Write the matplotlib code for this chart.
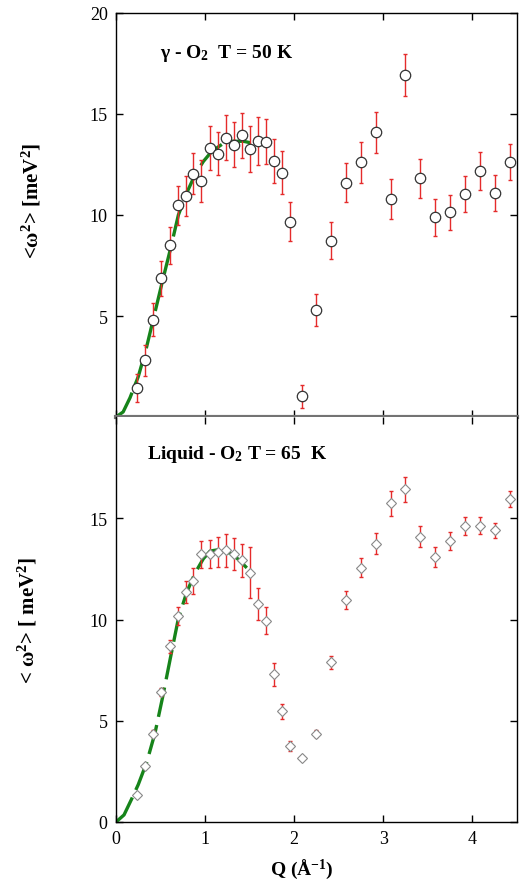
import matplotlib
matplotlib.use("Agg")
import matplotlib.pyplot as plt

plt.rcParams['font.family'] = 'Liberation Serif'
plt.rcParams['mathtext.fontset'] = 'custom'
plt.rcParams['mathtext.rm'] = 'Liberation Serif:bold'
plt.rcParams['mathtext.it'] = 'Liberation Serif:bold'
plt.rcParams['mathtext.bf'] = 'Liberation Serif:bold'

# Q grid, same for both panels (1/Angstrom)
q = [0.232, 0.322, 0.42, 0.51, 0.603, 0.697, 0.783, 0.869, 0.959, 1.052,
     1.142, 1.236, 1.326, 1.416, 1.506, 1.588, 1.682, 1.775, 1.865, 1.955,
     2.082, 2.247, 2.416, 2.584, 2.745, 2.914, 3.086, 3.247, 3.416, 3.584,
     3.753, 3.921, 4.09, 4.25, 4.42]

# gamma-O2, T = 50 K
w2_sol = [1.44, 2.81, 4.82, 6.86, 8.51, 10.48, 10.93, 12.05, 11.68, 13.32,
          13.03, 13.83, 13.48, 13.94, 13.27, 13.66, 13.63, 12.67, 12.10, 9.67,
          1.02, 5.30, 8.73, 11.60, 12.60, 14.09, 10.79, 16.91, 11.81, 9.88,
          10.13, 11.04, 12.18, 11.09, 12.61]
err_sol = [0.68, 0.77, 0.80, 0.88, 0.92, 0.97, 1.0, 1.03, 1.02, 1.09,
           1.07, 1.1, 1.1, 1.1, 1.15, 1.17, 1.1, 1.1, 1.05, 0.97,
           0.55, 0.78, 0.9, 0.97, 1.0, 1.0, 0.98, 1.04, 0.97, 0.93,
           0.88, 0.9, 0.95, 0.87, 0.9]

# liquid O2, T = 65 K
w2_liq = [1.31, 2.76, 4.37, 6.40, 8.67, 10.19, 11.36, 11.90, 13.22, 13.22,
          13.33, 13.41, 13.22, 12.92, 12.31, 10.78, 9.94, 7.30, 5.47, 3.74,
          3.18, 4.37, 7.88, 10.97, 12.56, 13.75, 15.73, 16.44, 14.09, 13.09,
          13.88, 14.63, 14.63, 14.41, 15.95]
err_liq = [0.08, 0.1, 0.15, 0.2, 0.33, 0.44, 0.55, 0.62, 0.68, 0.7,
           0.75, 0.8, 0.8, 0.81, 1.27, 0.78, 0.67, 0.57, 0.38, 0.25,
           0.1, 0.15, 0.34, 0.46, 0.48, 0.5, 0.6, 0.62, 0.52, 0.48,
           0.46, 0.45, 0.43, 0.37, 0.38]

# dashed model curves
fit_q_sol = [0, 0.08, 0.157, 0.25, 0.337, 0.43, 0.52, 0.61, 0.70, 0.794,
             0.888, 0.98, 1.075, 1.19, 1.31, 1.43, 1.506]
fit_sol = [0, 0.25, 0.95, 2.0, 3.35, 5.05, 6.7, 8.3, 10.0, 11.1,
           12.0, 12.65, 13.15, 13.5, 13.65, 13.65, 13.58]
fit_q_liq = [0, 0.09, 0.176, 0.25, 0.345, 0.438, 0.52, 0.615, 0.70, 0.794,
             0.888, 0.98, 1.056, 1.17, 1.318, 1.468]
fit_liq = [0, 0.35, 1.14, 1.85, 2.95, 4.4, 6.1, 8.2, 10.05, 11.35,
           12.3, 13.0, 13.38, 13.46, 13.2, 12.55]

red = '#e52b2b'
green = '#16841a'

fig = plt.figure(figsize=(5.26, 8.87), dpi=100)
ax1 = fig.add_axes([116/526, 469/887, 401/526, 404/887])
ax2 = fig.add_axes([116/526, 64/887, 401/526, 405/887])

# top panel
ax1.plot(fit_q_sol, fit_sol, color=green, lw=2.4, dashes=(9, 2.5), zorder=2)
ax1.errorbar(q, w2_sol, yerr=err_sol, fmt='none', ecolor=red, elinewidth=1,
             capsize=1.6, capthick=1, zorder=3)
ax1.plot(q, w2_sol, 'o', ms=7.5, mfc='white', mec='#333333', mew=0.9, zorder=4)
ax1.set_yticks([5, 10, 15, 20])
ax1.text(0.11, 0.892, "γ - O$_2$  T = 50 K", transform=ax1.transAxes,
         fontsize=14, fontweight='bold', va='baseline')

# bottom panel
ax2.plot(fit_q_liq, fit_liq, color=green, lw=2.4, dashes=(9, 2.5), zorder=2)
ax2.errorbar(q, w2_liq, yerr=err_liq, fmt='none', ecolor=red, elinewidth=1,
             capsize=1.6, capthick=1, zorder=3)
ax2.plot(q, w2_liq, 'D', ms=5.5, mfc='white', mec='#888888', mew=0.8, zorder=4)
ax2.set_yticks([0, 5, 10, 15])
ax2.text(0.077, 0.899, "Liquid - O$_2$ T = 65  K", transform=ax2.transAxes,
         fontsize=14, fontweight='bold', va='baseline')

for ax in (ax1, ax2):
    ax.set_xlim(0, 4.5)
    ax.set_ylim(0, 20)
    ax.set_xticks([0, 1, 2, 3, 4])
    ax.tick_params(direction='in', top=True, right=True, length=5, width=1,
                   labelsize=13, pad=6)
    for s in ax.spines.values():
        s.set_linewidth(1)

ax1.tick_params(labelbottom=False)
ax1.spines['bottom'].set_color('0.45')
ax1.spines['bottom'].set_linewidth(3)
ax2.spines['top'].set_visible(False)

fig.text(32/526, 1 - 201/887, "<ω$^2$> [meV$^2$]", rotation=90, ha='center',
         va='center', fontsize=15, fontweight='bold')
fig.text(28/526, 1 - 621/887, "< ω$^2$> [ meV$^2$]", rotation=90, ha='center',
         va='center', fontsize=15, fontweight='bold')
fig.text(302/526, 1 - 875/887, "Q (Å$^{-1}$)", ha='center', va='baseline',
         fontsize=14, fontweight='bold')

fig.savefig("out.png", dpi=100)
